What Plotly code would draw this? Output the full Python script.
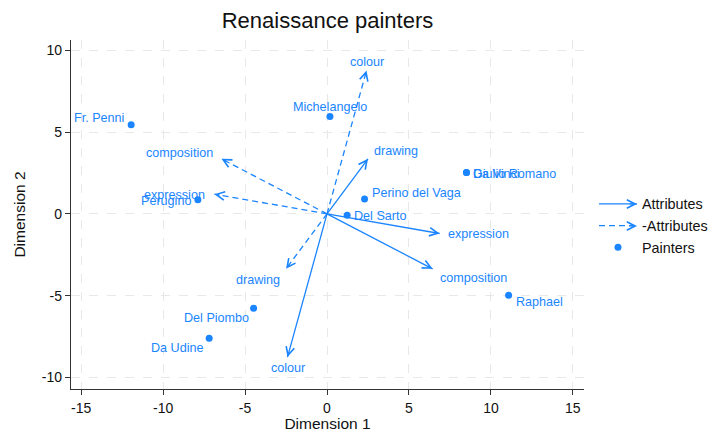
import math
import plotly.graph_objects as go

# ---------------- data ----------------
painters = ["Da Udine", "Da Vinci", "Del Piombo", "Del Sarto", "Fr. Penni",
            "Giulio Romano", "Michelangelo", "Perino del Vaga", "Perugino", "Raphael"]
painter_dim1 = [-7.19, 8.51, -4.48, 1.23, -11.95, 8.51, 0.18, 2.29, -7.88, 11.08]
painter_dim2 = [-7.60, 2.52, -5.76, -0.08, 5.44, 2.52, 5.94, 0.90, 0.86, -4.97]

attributes = ["composition", "drawing", "colour", "expression"]
attr_dim1 = [6.44, 2.50, -2.41, 6.87]
attr_dim2 = [-3.36, 3.36, -8.75, -1.20]

neg_attr_dim1 = [-6.44, -2.50, 2.41, -6.87]
neg_attr_dim2 = [3.36, -3.36, 8.75, 1.20]

x_ticks = [-15, -10, -5, 0, 5, 10, 15]
x_tick_labels = ["-15", "-10", "-5", "0", "5", "10", "15"]
y_ticks = [-10, -5, 0, 5, 10]
y_tick_labels = ["-10", "-5", "0", "5", "10"]

# ---------------- styles ----------------
BLUE = "#1a85ff"
FONT = "Arial, Liberation Sans, Helvetica, sans-serif"
LBL = 12.6

# label placement: (xanchor, yanchor, xshift, yshift) in pixels
painter_lbl = {
    "Da Udine": ("right", "middle", -3, -10),
    "Da Vinci": ("left", "middle", 5, -1),
    "Del Piombo": ("right", "middle", -3, -10),
    "Del Sarto": ("left", "middle", 5, -1),
    "Fr. Penni": ("right", "middle", -5, 7),
    "Giulio Romano": ("left", "middle", 5, -1),
    "Michelangelo": ("center", "middle", 0, 10),
    "Perino del Vaga": ("left", "middle", 5, 6),
    "Perugino": ("right", "middle", -5, -1),
    "Raphael": ("left", "middle", 5, -7),
}
attr_lbl = {
    "composition": ("left", "middle", 5, -9),
    "drawing": ("left", "middle", 4, 8),
    "colour": ("center", "middle", 0, -11),
    "expression": ("left", "middle", 6, -1),
}
neg_lbl = {
    "composition": ("right", "middle", -6, 6),
    "drawing": ("right", "middle", -4, -11),
    "colour": ("center", "middle", 0, 9),
    "expression": ("right", "middle", -7, -1),
}


def segments(xs, ys):
    sx, sy = [], []
    for a, b in zip(xs, ys):
        sx += [0, a, None]
        sy += [0, b, None]
    return sx, sy


fig = go.Figure()

sx, sy = segments(attr_dim1, attr_dim2)
fig.add_trace(go.Scatter(x=sx, y=sy, mode="lines", name="Attributes",
                         line=dict(color=BLUE, width=1.3), hoverinfo="skip"))
nx, ny = segments(neg_attr_dim1, neg_attr_dim2)
fig.add_trace(go.Scatter(x=nx, y=ny, mode="lines", name="-Attributes",
                         line=dict(color=BLUE, width=1.3, dash="6px,4px"), hoverinfo="skip"))
fig.add_trace(go.Scatter(x=painter_dim1, y=painter_dim2, mode="markers", name="Painters",
                         marker=dict(color=BLUE, size=7), text=painters))

annotations = []
HEAD = dict(text="", showarrow=True, arrowhead=5, arrowsize=1.5,
            arrowwidth=1.1, arrowcolor=BLUE, standoff=0, startstandoff=0,
            borderpad=0, font=dict(size=1))


def arrow_head(x, y):
    L = math.hypot(x, y)
    ux, uy = x / L, y / L
    annotations.append(dict(x=x, y=y, ax=x - 0.35 * ux, ay=y - 0.35 * uy,
                            xref="x", yref="y", axref="x", ayref="y", **HEAD))


def label(x, y, txt, spec):
    xa, ya, xs, ys = spec
    annotations.append(dict(x=x, y=y, xref="x", yref="y", text=txt, showarrow=False,
                            xanchor=xa, yanchor=ya, xshift=xs, yshift=ys,
                            font=dict(family=FONT, size=LBL, color=BLUE)))


for n, a, b in zip(attributes, attr_dim1, attr_dim2):
    arrow_head(a, b)
    label(a, b, n, attr_lbl[n])
for n, a, b in zip(attributes, neg_attr_dim1, neg_attr_dim2):
    arrow_head(a, b)
    label(a, b, n, neg_lbl[n])
for n, a, b in zip(painters, painter_dim1, painter_dim2):
    label(a, b, n, painter_lbl[n])

# figure geometry (pixels); the page body adds an 8px offset
W, H = 708, 424
ML, MR, MT, MB = 63, 132, 32, 43
PW, PH = W - ML - MR, H - MT - MB

# legend
LEG_X = 586
IW = 38
leg_rows = [196, 218]  # figure-pixel rows of the two arrow entries
for ry in leg_rows:
    annotations.append(dict(x=(LEG_X + 5 + IW - ML) / PW, y=(H - MB - ry) / PH,
                            xref="paper", yref="paper", ax=-8, ay=0, **HEAD))

axis_common = dict(showline=True, linecolor="#333333", linewidth=1.3,
                   ticks="outside", ticklen=5, tickcolor="#333333", tickwidth=1.2,
                   showgrid=True, gridcolor="#e8e8e8", gridwidth=1, griddash="dash",
                   zeroline=False, tickfont=dict(family=FONT, size=14, color="#111111"),
                   mirror=False, automargin=False)

fig.update_layout(
    width=W, height=H,
    margin=dict(l=ML, r=MR, t=MT, b=MB, autoexpand=False),
    paper_bgcolor="white", plot_bgcolor="white",
    title=dict(text="Renaissance painters", x=(ML + PW / 2) / W, xanchor="center",
               y=1 - 12 / H, yanchor="middle",
               font=dict(family=FONT, size=22, color="#111111")),
    xaxis=dict(range=[-15.62, 15.68], tickvals=x_ticks, ticktext=x_tick_labels,
               ticklabelstandoff=1,
               title=dict(text="Dimension 1", font=dict(family=FONT, size=15.5, color="#111111"),
                          standoff=6),
               **axis_common),
    yaxis=dict(range=[-10.7, 10.62], tickvals=y_ticks, ticktext=y_tick_labels,
               title=dict(text="Dimension 2", font=dict(family=FONT, size=15.5, color="#111111"),
                          standoff=12),
               **axis_common),
    showlegend=True,
    legend=dict(x=(LEG_X - ML) / PW, xanchor="left", y=(H - MB - 218) / PH, yanchor="middle",
                font=dict(family=FONT, size=14.4, color="#111111"),
                bgcolor="rgba(0,0,0,0)", borderwidth=0, itemwidth=IW, tracegroupgap=0),
    annotations=annotations,
)

fig.write_html("out.html")
